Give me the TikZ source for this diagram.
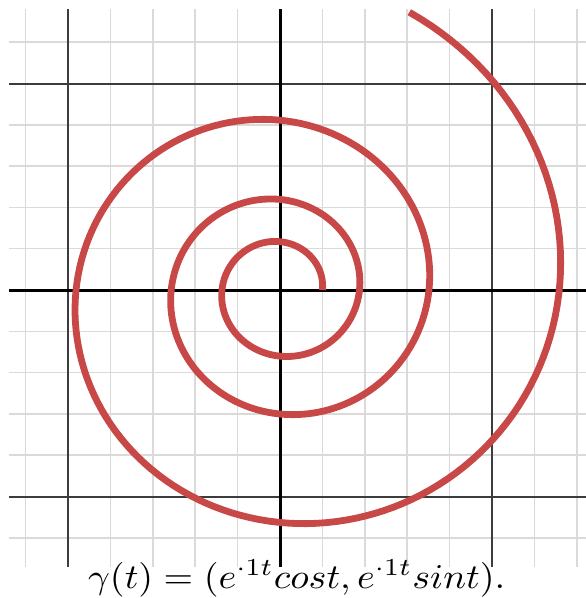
\documentclass[tikz,border=0pt]{standalone}
\usepackage{graphicx}
\definecolor{spiralred}{RGB}{200,72,72}
\definecolor{minorgray}{RGB}{218,218,218}
\definecolor{majorgray}{RGB}{60,60,60}
\begin{document}
\begin{tikzpicture}[x=1pt,y=-1pt,
  minorline/.style={draw=minorgray,line width=1.5pt},
  majorline/.style={draw=majorgray,line width=2pt},
  axisline/.style={draw=black,line width=3pt},
  spiralline/.style={draw=spiralred,line width=6.8pt,line cap=butt,line join=round}]
\useasboundingbox (0,0) rectangle (586,598);
% minor grid
\foreach \k in {-6,-4,-3,-2,-1,1,2,3,4,6,7} {
  \draw[minorline] ({280+42.4*\k},9) -- ({280+42.4*\k},567);
}
\foreach \j in {-6,-4,-3,-2,-1,1,2,3,4,6} {
  \draw[minorline] (9,{290+41.3*\j}) -- (586,{290+41.3*\j});
}
% major grid
\foreach \k in {-5,5} {
  \draw[majorline] ({280+42.4*\k},9) -- ({280+42.4*\k},567);
}
\foreach \j in {-5,5} {
  \draw[majorline] (9,{290+41.3*\j}) -- (586,{290+41.3*\j});
}
% axes
\draw[axisline] (9,290) -- (586,290);
\draw[axisline] (280,9) -- (280,567);
% spiral
\begin{scope}
\clip (9,9) rectangle (586,567);
\draw[spiralline] plot[domain=0:20,samples=500,variable=\t]
  ({280+42.4*exp(0.1*\t)*cos(\t r)},{290-41.3*exp(0.1*\t)*sin(\t r)});
\end{scope}
% caption
\node[anchor=south west,inner sep=0pt] (eq) at (88,597.5)
  {\resizebox*{417pt}{37pt}{$\gamma(t) = (e^{{\cdot}1t}cost, e^{{\cdot}1t}sint).$}};
\end{tikzpicture}
\end{document}
